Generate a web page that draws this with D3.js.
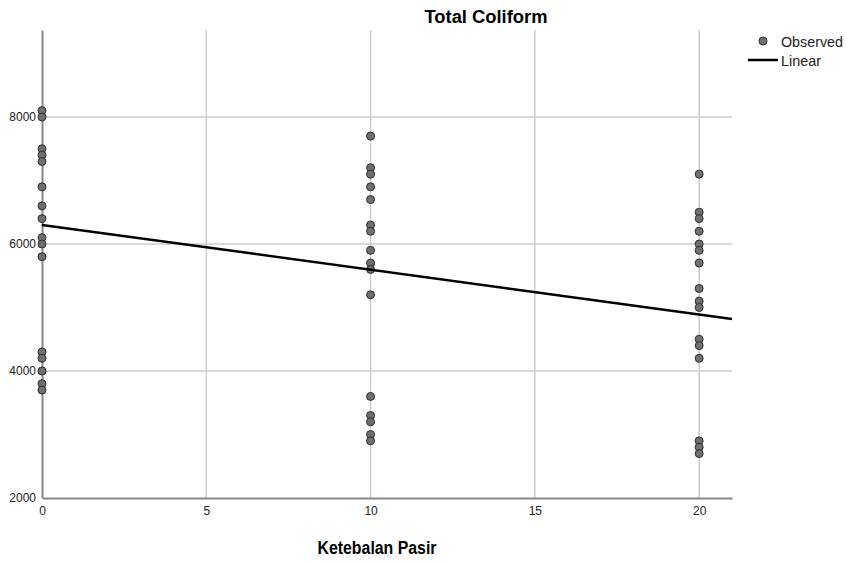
<!DOCTYPE html>
<html>
<head>
<meta charset="utf-8">
<script src="https://cdn.jsdelivr.net/npm/d3@7"></script>
<style>
  body { margin: 0; background: #fff; }
  svg { display: block; }
</style>
</head>
<body>
<svg></svg>
<script>
// Ketebalan Pasir groups and observed Total Coliform values
var thickness = [0, 10, 20];
var obsAt0 = [8100, 8000, 7500, 7400, 7300, 6900, 6600, 6400, 6100, 6000, 5800, 4300, 4200, 4000, 3800, 3700];
var obsAt10 = [7700, 7200, 7100, 6900, 6700, 6300, 6200, 5900, 5700, 5600, 5200, 3600, 3300, 3200, 3000, 2900];
var obsAt20 = [7100, 6500, 6400, 6200, 6000, 5900, 5700, 5300, 5100, 5000, 4500, 4400, 4200, 2900, 2800, 2700];
// fitted linear line: intercept and slope
var linearFit = [6300, -70.5];
var xTicks = [0, 5, 10, 15, 20];
var yTicks = [2000, 4000, 6000, 8000];

var width = 847, height = 563;
var svg = d3.select("svg").attr("width", width).attr("height", height);

var x = d3.scaleLinear().domain([0, 21]).range([42, 732]);
var y = d3.scaleLinear().domain([2000, 9370]).range([498, 30]);

var groups = [obsAt0, obsAt10, obsAt20];
var points = [];
groups.forEach(function(vals, i) {
  vals.forEach(function(v) { points.push({x: thickness[i], y: v}); });
});

var font = "'Liberation Sans', Arial, sans-serif";

// grid
svg.append("g").selectAll("line.vg")
  .data(xTicks.filter(function(d){ return d > 0; }))
  .enter().append("line")
  .attr("x1", function(d){ return x(d); }).attr("x2", function(d){ return x(d); })
  .attr("y1", y(9370)).attr("y2", y(2000))
  .attr("stroke", "#cccccc").attr("stroke-width", 1.5);

svg.append("g").selectAll("line.hg")
  .data(yTicks.filter(function(d){ return d > 2000; }))
  .enter().append("line")
  .attr("x1", x(0)).attr("x2", x(21))
  .attr("y1", function(d){ return y(d); }).attr("y2", function(d){ return y(d); })
  .attr("stroke", "#cccccc").attr("stroke-width", 1.5);

// axes
var xAxis = svg.append("g")
  .attr("transform", "translate(0," + y(2000) + ")")
  .call(d3.axisBottom(x).tickValues(xTicks).tickSize(0).tickPadding(8));
var yAxis = svg.append("g")
  .attr("transform", "translate(" + x(0) + ",0)")
  .call(d3.axisLeft(y).tickValues(yTicks).tickSize(0).tickPadding(6).tickFormat(d3.format("d")));

[xAxis, yAxis].forEach(function(a) {
  a.select(".domain").attr("stroke", "#888888").attr("stroke-width", 2);
  a.selectAll("text").attr("font-family", font).attr("font-size", 12).attr("fill", "#222");
});

// observed points
svg.append("g").selectAll("circle")
  .data(points)
  .enter().append("circle")
  .attr("cx", function(d){ return x(d.x); })
  .attr("cy", function(d){ return y(d.y); })
  .attr("r", 4)
  .attr("fill", "#6f6f6f")
  .attr("stroke", "#2e2e2e")
  .attr("stroke-width", 1);

// linear fit
var fitLine = d3.line()
  .x(function(d){ return x(d); })
  .y(function(d){ return y(linearFit[0] + linearFit[1] * d); });
svg.append("path")
  .datum([0, 21])
  .attr("d", fitLine)
  .attr("fill", "none")
  .attr("stroke", "#000")
  .attr("stroke-width", 2.5);

// title and axis label
svg.append("text")
  .attr("x", 486).attr("y", 23)
  .attr("text-anchor", "middle")
  .attr("font-family", font)
  .attr("font-weight", "bold").attr("font-size", 17.5)
  .attr("textLength", 123).attr("lengthAdjust", "spacingAndGlyphs")
  .text("Total Coliform");

svg.append("text")
  .attr("x", 377).attr("y", 554)
  .attr("text-anchor", "middle")
  .attr("font-family", font)
  .attr("font-weight", "bold").attr("font-size", 18)
  .attr("textLength", 119).attr("lengthAdjust", "spacingAndGlyphs")
  .text("Ketebalan Pasir");

// legend
var legend = svg.append("g").attr("font-family", font).attr("font-size", 14).attr("fill", "#222");
legend.append("circle").attr("cx", 763).attr("cy", 41).attr("r", 4)
  .attr("fill", "#6f6f6f").attr("stroke", "#2e2e2e");
legend.append("text").attr("x", 781).attr("y", 47)
  .attr("textLength", 62).attr("lengthAdjust", "spacingAndGlyphs").text("Observed");
legend.append("line").attr("x1", 748).attr("x2", 778).attr("y1", 60).attr("y2", 60)
  .attr("stroke", "#000").attr("stroke-width", 2.5);
legend.append("text").attr("x", 781).attr("y", 66)
  .attr("textLength", 40).attr("lengthAdjust", "spacingAndGlyphs").text("Linear");
</script>
</body>
</html>
